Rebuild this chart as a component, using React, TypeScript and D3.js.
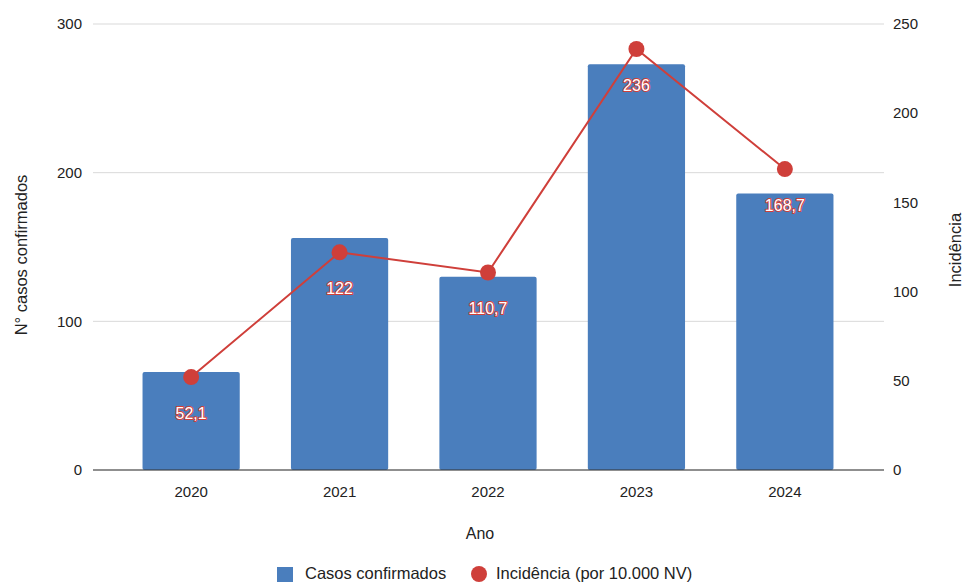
import React from "react";
import * as d3 from "d3";

// Yearly confirmed cases (bars, left axis) and incidence per 10,000 live births (line, right axis)
const years = ["2020", "2021", "2022", "2023", "2024"];
const casos = [66, 156, 130, 273, 186];
const incidencia = [52.1, 122, 110.7, 236, 168.7];
const leftTicks = [0, 100, 200, 300];
const rightTicks = [0, 50, 100, 150, 200, 250];

const W = 964;
const H = 584;
const FONT = "'Liberation Sans', Arial, sans-serif";
const BLUE = "#4a7ebd";
const RED = "#cf3f3a";
const INK = "#222";

const plot = { left: 93, right: 884, top: 24, bottom: 470 };

const fmt = (v: number) => String(v).replace(".", ",");

export default function App() {
  const x = d3
    .scaleBand<string>()
    .domain(years)
    .range([117, 859])
    .paddingInner(0.345)
    .paddingOuter(0.172);
  const yL = d3.scaleLinear().domain([0, 300]).range([plot.bottom, plot.top]);
  const yR = d3.scaleLinear().domain([0, 250]).range([plot.bottom, plot.top]);
  const cx = (i: number) => (x(years[i]) as number) + x.bandwidth() / 2;

  const line = d3
    .line<number>()
    .x((_, i) => cx(i))
    .y((d) => yR(d));

  return (
    <svg
      width={W}
      height={H}
      style={{ position: "absolute", left: 0, top: 0, background: "#fff" }}
      fontFamily={FONT}
    >
      {/* gridlines */}
      {leftTicks.map((t) => (
        <line
          key={"g" + t}
          x1={plot.left}
          x2={plot.right}
          y1={yL(t)}
          y2={yL(t)}
          stroke="#d9d9d9"
          strokeWidth={1}
        />
      ))}
      {/* left ticks */}
      {leftTicks.map((t) => (
        <text
          key={"l" + t}
          x={82}
          y={yL(t)}
          dy="0.35em"
          textAnchor="end"
          fontSize={15}
          fill={INK}
        >
          {t}
        </text>
      ))}
      {/* right ticks */}
      {rightTicks.map((t) => (
        <text
          key={"r" + t}
          x={893}
          y={yR(t)}
          dy="0.35em"
          textAnchor="start"
          fontSize={15}
          fill={INK}
        >
          {t}
        </text>
      ))}
      {/* bars */}
      {years.map((yr, i) => (
        <rect
          key={"b" + yr}
          x={x(yr)}
          y={yL(casos[i])}
          width={x.bandwidth()}
          height={yL(0) - yL(casos[i])}
          fill={BLUE}
          rx={2}
        />
      ))}
      {/* baseline */}
      <line
        x1={plot.left}
        x2={plot.right}
        y1={yL(0)}
        y2={yL(0)}
        stroke="#333"
        strokeWidth={1}
      />
      {/* x tick labels */}
      {years.map((yr, i) => (
        <text
          key={"x" + yr}
          x={cx(i)}
          y={492}
          dy="0.35em"
          textAnchor="middle"
          fontSize={15}
          fill={INK}
        >
          {yr}
        </text>
      ))}
      {/* incidence line */}
      <path d={line(incidencia) || ""} fill="none" stroke={RED} strokeWidth={2} />
      {incidencia.map((v, i) => (
        <circle key={"c" + i} cx={cx(i)} cy={yR(v)} r={8} fill={RED} />
      ))}
      {/* data labels */}
      {incidencia.map((v, i) => (
        <text
          key={"d" + i}
          x={cx(i)}
          y={yR(v) + 36}
          dy="0.35em"
          textAnchor="middle"
          fontSize={16}
          fill="#fff"
          stroke={RED}
          strokeWidth={2}
          paintOrder="stroke"
          strokeLinejoin="round"
        >
          {fmt(v)}
        </text>
      ))}
      {/* axis titles */}
      <text
        transform={`translate(21,255) rotate(-90)`}
        textAnchor="middle"
        dy="0.35em"
        fontSize={16.5}
        fill={INK}
      >
        N° casos confirmados
      </text>
      <text
        transform={`translate(955,250) rotate(-90)`}
        textAnchor="middle"
        dy="0.35em"
        fontSize={16.5}
        fill={INK}
      >
        Incidência
      </text>
      <text x={480} y={533} dy="0.35em" textAnchor="middle" fontSize={16} fill={INK}>
        Ano
      </text>
      {/* legend */}
      <rect x={277} y={567} width={16} height={15} fill={BLUE} />
      <text x={305} y={573} dy="0.35em" fontSize={16.5} fill={INK}>
        Casos confirmados
      </text>
      <circle cx={479} cy={574} r={8} fill={RED} />
      <text x={496} y={573} dy="0.35em" fontSize={16.5} fill={INK}>
        Incidência (por 10.000 NV)
      </text>
    </svg>
  );
}
